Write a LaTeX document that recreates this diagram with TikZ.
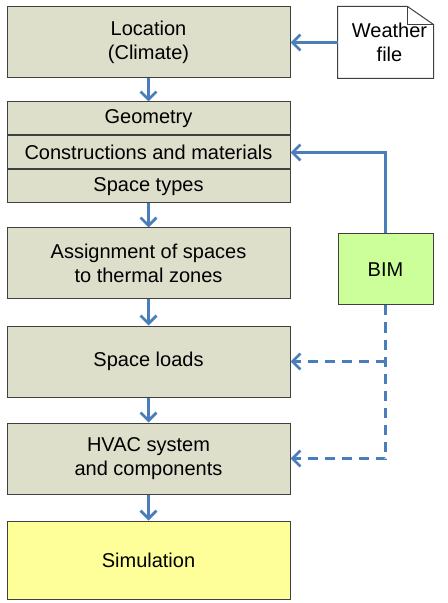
\documentclass[tikz,border=0pt]{standalone}
\usepackage{fontspec}
\setmainfont{Liberation Sans}
\usetikzlibrary{positioning,arrows.meta}

\definecolor{stepfill}{RGB}{221,223,203}
\definecolor{bimfill}{RGB}{204,255,153}
\definecolor{simfill}{RGB}{255,255,153}
\definecolor{flowblue}{RGB}{74,126,187}

\tikzset{
  block/.style={draw=black!75, line width=0.5pt, fill=stepfill, minimum width=141.5pt,
    minimum height=35.5pt, align=center, inner sep=0pt, font=\fontsize{10}{12}\selectfont},
  slab/.style={block, minimum height=16.5pt},
  sidebox/.style={block, minimum width=47.5pt},
  flow/.style={draw=flowblue, line width=1.4pt, -{Straight Barb[length=4pt,width=8pt]}},
  dflow/.style={flow, dash pattern=on 5pt off 3.5pt}
}

\begin{document}
\begin{tikzpicture}[x=0.5pt, y=-0.5pt]
    \useasboundingbox (0,0) rectangle (447,603);
    % main column
    \node (LOC) [block] at (148.5,42.5) {Location\\(Climate)};
    \node (GEOM) [slab, below=11.5pt of LOC] {Geometry};
    \node (CONS) [slab, below=0pt of GEOM] {Constructions and materials};
    \node (TYPES) [slab, below=0pt of CONS] {Space types};
    \node (ZONES) [block, below=12pt of TYPES] {Assignment of spaces\\to thermal zones};
    \node (LOADS) [block, below=13pt of ZONES] {Space loads};
    \node (HVAC) [block, below=12.5pt of LOADS] {HVAC system\\and components};
    \node (SIM) [block, fill=simfill, minimum height=39pt, below=13pt of HVAC] {Simulation};
    % side inputs
    \node (WEATHER) [sidebox, draw=none, fill=none] at (385.5,42.5) {};
    \draw [black!75, line width=0.5pt, fill=white]
      (WEATHER.north west) -- ([xshift=-13pt]WEATHER.north east)
      -- ([yshift=-9pt]WEATHER.north east) -- (WEATHER.south east)
      -- (WEATHER.south west) -- cycle;
    \draw [black!75, line width=0.5pt]
      ([xshift=-13pt]WEATHER.north east) -- ([xshift=-13pt,yshift=-9pt]WEATHER.north east)
      -- ([yshift=-9pt]WEATHER.north east);
    \node (WTEXT) at ([xshift=2pt]WEATHER) [align=center, font=\fontsize{10}{12}\selectfont] {Weather\\file};
    \node (BIM) [sidebox, fill=bimfill] at (385.5,269.5) {BIM};
    % connectors
    \draw [flow] (LOC) -- (GEOM);
    \draw [flow] (TYPES) -- (ZONES);
    \draw [flow] (ZONES) -- (LOADS);
    \draw [flow] (LOADS) -- (HVAC);
    \draw [flow] (HVAC) -- (SIM);
    \draw [flow] (WEATHER) -- (LOC);
    \draw [flow] (BIM.north) |- (CONS.east);
    \draw [dflow] (BIM.south) |- (HVAC.east);
    \draw [dflow] (BIM.south |- LOADS.east) -- (LOADS.east);
\end{tikzpicture}
\end{document}
